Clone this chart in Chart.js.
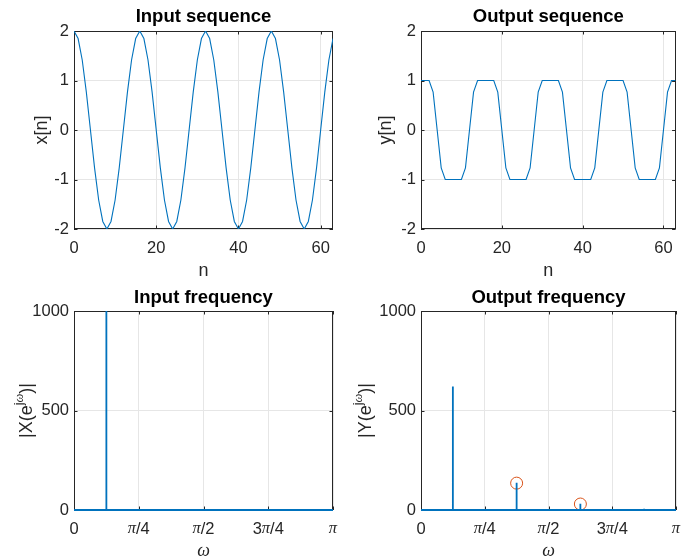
<!DOCTYPE html>
<html>
<head>
<meta charset="utf-8">
<script src="https://cdn.jsdelivr.net/npm/chart.js@4.4.1/dist/chart.umd.min.js"></script>
<style>
  html, body { margin: 0; padding: 0; background: #fff; }
  #fig { position: relative; width: 683px; height: 559px; background: #fff; overflow: hidden; }
  #fig canvas { position: absolute; left: 0; top: 0; }
</style>
</head>
<body>
<div id="fig">
  <canvas id="chart-input-seq" width="683" height="559"></canvas>
  <canvas id="chart-output-seq" width="683" height="559"></canvas>
  <canvas id="chart-input-freq" width="683" height="559"></canvas>
  <canvas id="chart-output-freq" width="683" height="559"></canvas>
</div>
<script>
// sample index n = 0..63
var sampleIndex = [
  0, 1, 2, 3, 4, 5, 6, 7, 8, 9, 10, 11, 12, 13, 14, 15,
  16, 17, 18, 19, 20, 21, 22, 23, 24, 25, 26, 27, 28, 29, 30, 31,
  32, 33, 34, 35, 36, 37, 38, 39, 40, 41, 42, 43, 44, 45, 46, 47,
  48, 49, 50, 51, 52, 53, 54, 55, 56, 57, 58, 59, 60, 61, 62, 63
];

var inputSeq = [
  2, 1.848, 1.414, 0.765, 0, -0.765, -1.414, -1.848, -2, -1.848, -1.414, -0.765, 0, 0.765, 1.414, 1.848,
  2, 1.848, 1.414, 0.765, 0, -0.765, -1.414, -1.848, -2, -1.848, -1.414, -0.765, 0, 0.765, 1.414, 1.848,
  2, 1.848, 1.414, 0.765, 0, -0.765, -1.414, -1.848, -2, -1.848, -1.414, -0.765, 0, 0.765, 1.414, 1.848,
  2, 1.848, 1.414, 0.765, 0, -0.765, -1.414, -1.848, -2, -1.848, -1.414, -0.765, 0, 0.765, 1.414, 1.848
];

var outputSeq = [
  1, 1, 1, 0.765, 0, -0.765, -1, -1, -1, -1, -1, -0.765, 0, 0.765, 1, 1,
  1, 1, 1, 0.765, 0, -0.765, -1, -1, -1, -1, -1, -0.765, 0, 0.765, 1, 1,
  1, 1, 1, 0.765, 0, -0.765, -1, -1, -1, -1, -1, -0.765, 0, 0.765, 1, 1,
  1, 1, 1, 0.765, 0, -0.765, -1, -1, -1, -1, -1, -0.765, 0, 0.765, 1, 1
];

// frequency axis in units of pi
var omegaTickLabels = ['0', 'π/4', 'π/2', '3π/4', 'π'];
var inputPeakOmega = [0.125];
var inputPeakMag = [1000];
var outputPeakOmega = [0.125, 0.375, 0.625, 0.875];
var outputPeakMag = [620, 137, 32, 6];
var markedOmega = [0.375, 0.625];
var markedMag = [135, 30];

var blue = '#0072bd';
var orange = '#d95319';
var axisColor = '#262626';
var gridColor = '#e6e6e6';
var sans = '"Liberation Sans", Arial, sans-serif';
var serif = '"Liberation Serif", "DejaVu Serif", serif';
var FIG_W = 683, FIG_H = 559, XH = 45;
var TICK_SIZE = 16.5, LABEL_SIZE = 18, TITLE_SIZE = 18.5;

Chart.defaults.font.family = sans;
Chart.defaults.color = axisColor;

function seqPoints(xs, ys) {
  return xs.map(function(x, i) { return { x: x, y: ys[i] }; });
}

function spikePoints(omega, mag) {
  var pts = [{ x: 0, y: 0 }];
  omega.forEach(function(w, i) {
    pts.push({ x: w, y: 0 }, { x: w, y: mag[i] }, { x: w, y: 0 });
  });
  pts.push({ x: 1, y: 0 });
  return pts;
}

// MATLAB look: full box, inward ticks, pi tick labels, superscript y label
var matlabAxes = {
  id: 'matlabAxes',
  beforeDatasetsDraw: function(chart) {
    var a = chart.chartArea, c = chart.ctx;
    var xs = chart.scales.x, ys = chart.scales.y;
    var tl = 3.5;
    c.save();
    c.strokeStyle = axisColor;
    c.lineWidth = 1;
    c.beginPath();
    xs.ticks.forEach(function(t) {
      var px = Math.round(xs.getPixelForValue(t.value)) + 0.5;
      c.moveTo(px, a.bottom); c.lineTo(px, a.bottom - tl);
      c.moveTo(px, a.top); c.lineTo(px, a.top + tl);
    });
    ys.ticks.forEach(function(t) {
      var py = Math.round(ys.getPixelForValue(t.value)) + 0.5;
      c.moveTo(a.left, py); c.lineTo(a.left + tl, py);
      c.moveTo(a.right, py); c.lineTo(a.right - tl, py);
    });
    c.stroke();
    c.strokeRect(Math.round(a.left) + 0.5, Math.round(a.top) + 0.5,
      Math.round(a.right - a.left) - 1, Math.round(a.bottom - a.top) - 1);
    c.restore();
  },
  afterDraw: function(chart, args, opts) {
    var a = chart.chartArea, c = chart.ctx;
    c.save();
    c.fillStyle = axisColor;
    c.textBaseline = 'middle';
    if (opts.piTicks) {
      var xs = chart.scales.x;
      xs.ticks.forEach(function(t) {
        var parts = String(t.label).split(/(π)/).filter(function(s) { return s; });
        var fonts = parts.map(function(s) {
          return s === 'π' ? 'italic ' + TICK_SIZE + 'px ' + serif : TICK_SIZE + 'px ' + sans;
        });
        var w = 0;
        parts.forEach(function(s, i) { c.font = fonts[i]; w += c.measureText(s).width; });
        var x0 = xs.getPixelForValue(t.value) - w / 2;
        parts.forEach(function(s, i) {
          c.font = fonts[i];
          c.textAlign = 'left';
          c.fillText(s, x0, a.bottom + 19);
          x0 += c.measureText(s).width;
        });
      });
    }
    if (opts.yLabel) {
      var segs = [
        { text: opts.yLabel[0], font: LABEL_SIZE + 'px ' + sans, dy: 0 },
        { text: opts.yLabel[1].charAt(0), font: '12.5px ' + sans, dy: -7.5 },
        { text: opts.yLabel[1].slice(1), font: 'italic 12.5px ' + serif, dy: -7.5 },
        { text: opts.yLabel[2], font: LABEL_SIZE + 'px ' + sans, dy: 0 }
      ];
      var total = 0;
      segs.forEach(function(s) { c.font = s.font; s.w = c.measureText(s.text).width; total += s.w; });
      c.translate(opts.yLabelX, (a.top + a.bottom) / 2);
      c.rotate(-Math.PI / 2);
      var x = -total / 2;
      segs.forEach(function(s) {
        c.font = s.font;
        c.textAlign = 'left';
        c.fillText(s.text, x, s.dy);
        x += s.w;
      });
    }
    c.restore();
  }
};

function makeAxes(id, box, cfg) {
  var ctx = document.getElementById(id);
  if (!ctx) return;
  var piAxis = !!cfg.piTicks;
  var titleHalf = TITLE_SIZE * 1.2 / 2, labelHalf = LABEL_SIZE * 1.2 / 2;

  new Chart(ctx.getContext('2d'), {
    type: 'line',
    data: { datasets: cfg.datasets },
    options: {
      responsive: false, animation: false, devicePixelRatio: 1, events: [],
      layout: { padding: { left: 0, right: FIG_W - box.r, top: box.titleY - titleHalf, bottom: FIG_H - box.b - XH } },
      plugins: {
        legend: { display: false },
        tooltip: { enabled: false },
        title: {
          display: true, text: cfg.title, fullSize: false, color: '#000',
          font: { family: sans, size: TITLE_SIZE, weight: 'bold', lineHeight: 1.2 },
          padding: { top: 0, bottom: box.t - box.titleY - titleHalf }
        },
        matlabAxes: { piTicks: piAxis, yLabel: cfg.yLabelParts || null, yLabelX: box.yTitleX }
      },
      scales: {
        x: {
          type: 'linear', min: cfg.x[0], max: cfg.x[1],
          afterFit: function(s) { s.height = XH; },
          grid: { color: gridColor, drawTicks: false },
          border: { display: false },
          ticks: {
            stepSize: cfg.x[2], includeBounds: false, padding: 10, display: !piAxis,
            font: { size: TICK_SIZE }, color: axisColor,
            callback: function(v, i) { return cfg.xTickLabels ? cfg.xTickLabels[i] : String(v); }
          },
          title: {
            display: true, text: cfg.xLabel, color: axisColor,
            font: cfg.xLabelFont || { family: sans, size: LABEL_SIZE },
            padding: { top: 0, bottom: box.b + XH - labelHalf - box.xTitleY }
          }
        },
        y: {
          type: 'linear', min: cfg.y[0], max: cfg.y[1],
          afterFit: function(s) { s.width = box.l; },
          grid: { color: gridColor, drawTicks: false },
          border: { display: false },
          ticks: {
            stepSize: cfg.y[2], padding: 5, font: { size: TICK_SIZE }, color: axisColor,
            callback: function(v) { return String(v); }
          },
          title: {
            display: !cfg.yLabelParts, text: cfg.yLabel || '', color: axisColor,
            font: { family: sans, size: LABEL_SIZE },
            padding: { top: box.yTitleX - labelHalf, bottom: 0 }
          }
        }
      }
    },
    plugins: [matlabAxes]
  });
}

var lineStyle = { borderColor: blue, borderWidth: 1.1, pointRadius: 0, tension: 0, fill: false };
var spikeStyle = { borderColor: blue, borderWidth: 1.8, pointRadius: 0, tension: 0, fill: false, clip: 4 };
var omegaFont = { family: serif, size: LABEL_SIZE, style: 'italic' };

makeAxes('chart-input-seq',
  { l: 74, t: 31, r: 333, b: 229, titleY: 17, xTitleY: 271, yTitleX: 42.5 },
  {
    title: 'Input sequence', xLabel: 'n', yLabel: 'x[n]',
    x: [0, 63, 20], y: [-2, 2, 1],
    datasets: [Object.assign({ data: seqPoints(sampleIndex, inputSeq) }, lineStyle)]
  });

makeAxes('chart-output-seq',
  { l: 421, t: 31, r: 681, b: 229, titleY: 17, xTitleY: 271, yTitleX: 386.5 },
  {
    title: 'Output sequence', xLabel: 'n', yLabel: 'y[n]',
    x: [0, 63, 20], y: [-2, 2, 1],
    datasets: [Object.assign({ data: seqPoints(sampleIndex, outputSeq) }, lineStyle)]
  });

makeAxes('chart-input-freq',
  { l: 74, t: 311, r: 333, b: 510, titleY: 298.3, xTitleY: 551, yTitleX: 27.5 },
  {
    title: 'Input frequency', xLabel: 'ω', xLabelFont: omegaFont,
    yLabelParts: ['|X(e', 'jω', ')|'], piTicks: true, xTickLabels: omegaTickLabels,
    x: [0, 1, 0.25], y: [0, 1000, 500],
    datasets: [Object.assign({ data: spikePoints(inputPeakOmega, inputPeakMag) }, spikeStyle)]
  });

makeAxes('chart-output-freq',
  { l: 421, t: 311, r: 681, b: 510, titleY: 298.3, xTitleY: 551, yTitleX: 366 },
  {
    title: 'Output frequency', xLabel: 'ω', xLabelFont: omegaFont,
    yLabelParts: ['|Y(e', 'jω', ')|'], piTicks: true, xTickLabels: omegaTickLabels,
    x: [0, 1, 0.25], y: [0, 1000, 500],
    datasets: [
      Object.assign({ data: spikePoints(outputPeakOmega, outputPeakMag) }, spikeStyle),
      {
        type: 'scatter', data: seqPoints(markedOmega, markedMag),
        pointStyle: 'circle', pointRadius: 6, pointBorderColor: orange, pointBorderWidth: 1,
        pointBackgroundColor: 'rgba(0,0,0,0)', showLine: false
      }
    ]
  });
</script>
</body>
</html>
